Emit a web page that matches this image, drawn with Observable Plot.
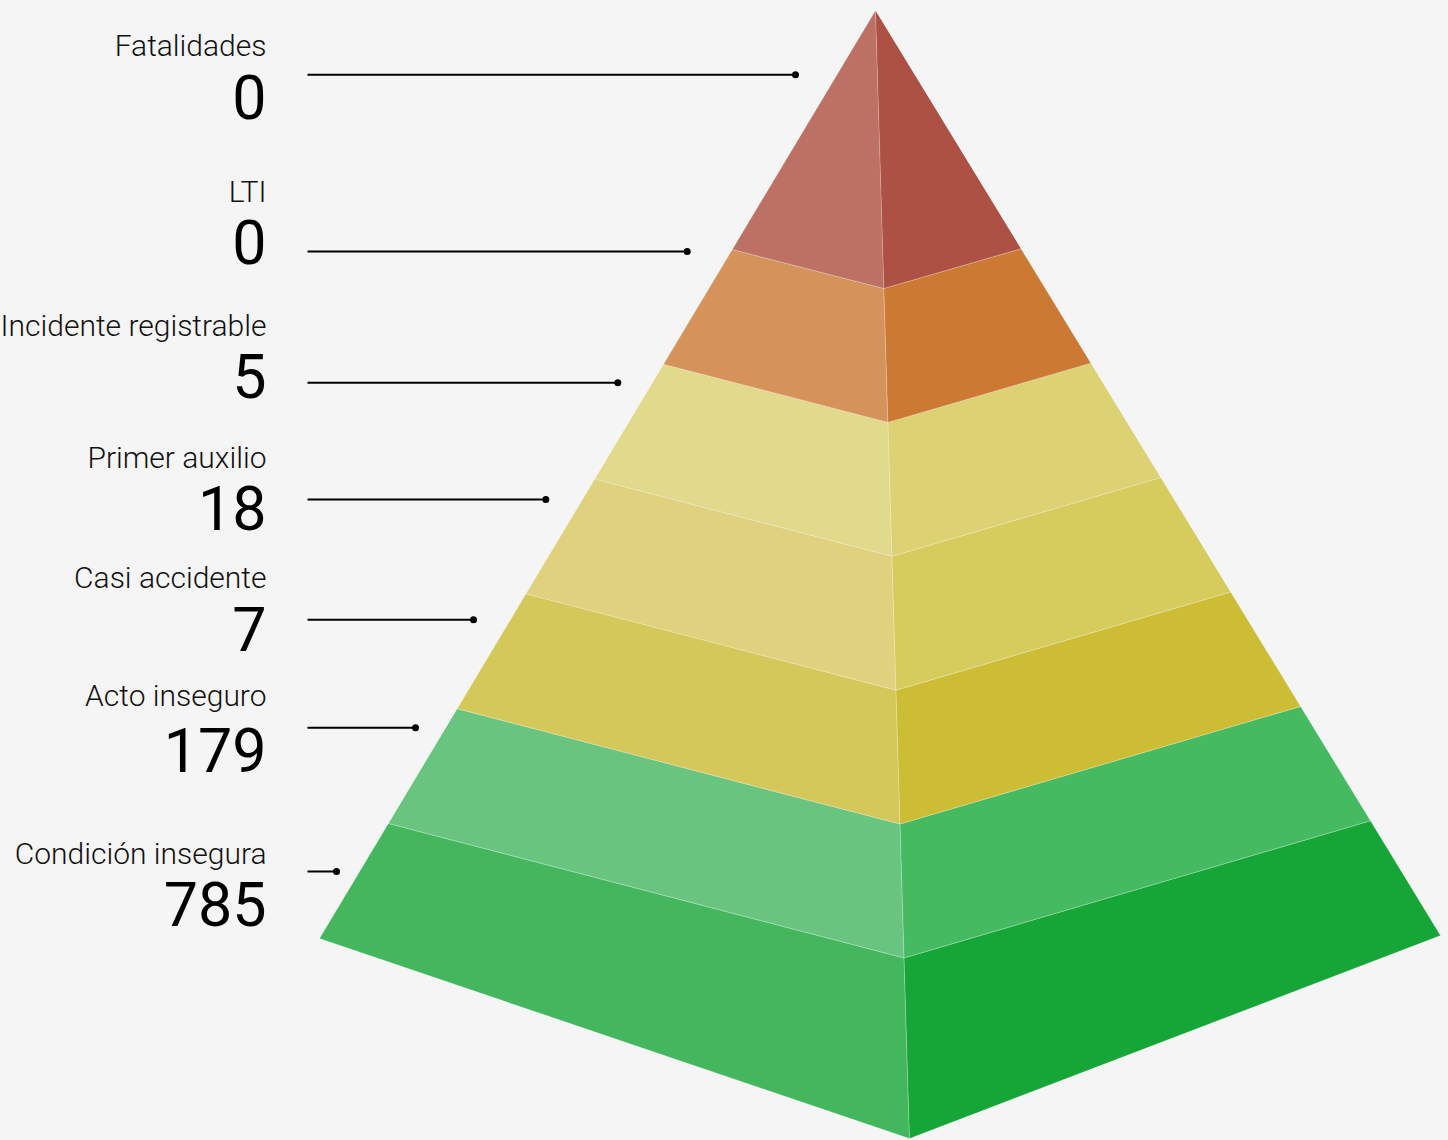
<!DOCTYPE html>
<html>
<head>
<meta charset="utf-8">
<script src="https://cdn.jsdelivr.net/npm/d3@7"></script>
<script src="https://cdn.jsdelivr.net/npm/@observablehq/plot@0.6"></script>
<style>
  html, body { margin: 0; padding: 0; background: #f5f5f5; }
  #chart svg { display: block; }
</style>
</head>
<body>
<div id="chart"></div>
<script>
// ---- DATA ----
const categories = ["Fatalidades", "LTI", "Incidente registrable", "Primer auxilio", "Casi accidente", "Acto inseguro", "Condición insegura"];
const values = [0, 0, 5, 18, 7, 179, 785];
// face colours per tier (left lit face, right shaded face)
const leftColors  = ["#BD7064", "#D5935B", "#E1D98B", "#DFD17E", "#D5C85A", "#69C47F", "#44B75E"];
const rightColors = ["#AD5144", "#CC7934", "#DCD274", "#D6CB5D", "#CDBD35", "#46BA61", "#16A637"];

// ---- LAYOUT (pixel space) ----
const W = 1448, H = 1140;
const apex = [875, 10], baseLeft = [319, 938], baseFront = [909, 1138], baseRight = [1440, 935];
const outerTop = 0.2578, outerStep = (1 - outerTop) / 6;   // tier boundaries along the outer edges
const ridgeTop = 0.2467, ridgeStep = 0.1187;              // tier boundaries along the front ridge
const nameBaseline  = [55, 201, 335, 467, 587, 705, 863];
const valueBaseline = [118, 263, 397, 529, 650, 771, 925];
const leaderY = [74.3, 251, 382.3, 499, 619.3, 727.3, 871];
const leaderX0 = 307;
const leaderX1 = [795, 686.7, 617.3, 545.3, 473, 415, 336];
const labelX = 266;

const lerp = (a, b, t) => [a[0] + (b[0] - a[0]) * t, a[1] + (b[1] - a[1]) * t];
const n = categories.length;
const outerT = k => k < 0 ? 0 : (k >= n - 1 ? 1 : outerTop + outerStep * k);
const ridgeT = k => k < 0 ? 0 : (k >= n - 1 ? 1 : ridgeTop + ridgeStep * k);

// build face polygons
const faces = [];
categories.forEach((c, i) => {
  const l0 = lerp(apex, baseLeft, outerT(i - 1)), l1 = lerp(apex, baseLeft, outerT(i));
  const r0 = lerp(apex, baseRight, outerT(i - 1)), r1 = lerp(apex, baseRight, outerT(i));
  const f0 = lerp(apex, baseFront, ridgeT(i - 1)), f1 = lerp(apex, baseFront, ridgeT(i));
  const left = i === 0 ? [apex, l1, f1] : [l0, l1, f1, f0];
  const right = i === 0 ? [apex, f1, r1] : [f0, f1, r1, r0];
  left.forEach(p => faces.push({id: `L${i}`, x: p[0], y: p[1], color: leftColors[i]}));
  right.forEach(p => faces.push({id: `R${i}`, x: p[0], y: p[1], color: rightColors[i]}));
});

const rows = categories.map((c, i) => ({
  name: c, value: values[i],
  x: labelX, ny: nameBaseline[i], vy: valueBaseline[i],
  lx0: leaderX0, lx1: leaderX1[i], ly: leaderY[i]
}));

const chart = Plot.plot({
  width: W, height: H, margin: 0,
  x: {domain: [0, W], range: [0, W], axis: null},
  y: {domain: [0, H], range: [0, H], axis: null},
  color: {type: "identity"},
  style: {background: "#f5f5f5", overflow: "visible"},
  marks: [
    Plot.line(faces, {x: "x", y: "y", z: "id", fill: "color", stroke: "#ffffff", strokeOpacity: 0.28, strokeWidth: 0.8, curve: "linear-closed"}),
    Plot.link(rows, {x1: "lx0", x2: "lx1", y1: "ly", y2: "ly", stroke: "#000", strokeWidth: 2}),
    Plot.dot(rows, {x: "lx1", y: "ly", r: 3.5, fill: "#000", stroke: null}),
    Plot.text(rows, {x: "x", y: "ny", text: "name", textAnchor: "end", lineAnchor: "bottom", fontSize: 30, fontWeight: 300, fill: "#111", fontFamily: "Roboto, 'Liberation Sans', sans-serif"}),
    Plot.text(rows, {x: "x", y: "vy", text: d => String(d.value), textAnchor: "end", lineAnchor: "bottom", fontSize: 61, fontWeight: 400, fill: "#000", fontFamily: "Roboto, 'Liberation Sans', sans-serif"})
  ]
});
document.getElementById("chart").appendChild(chart);
</script>
</body>
</html>
